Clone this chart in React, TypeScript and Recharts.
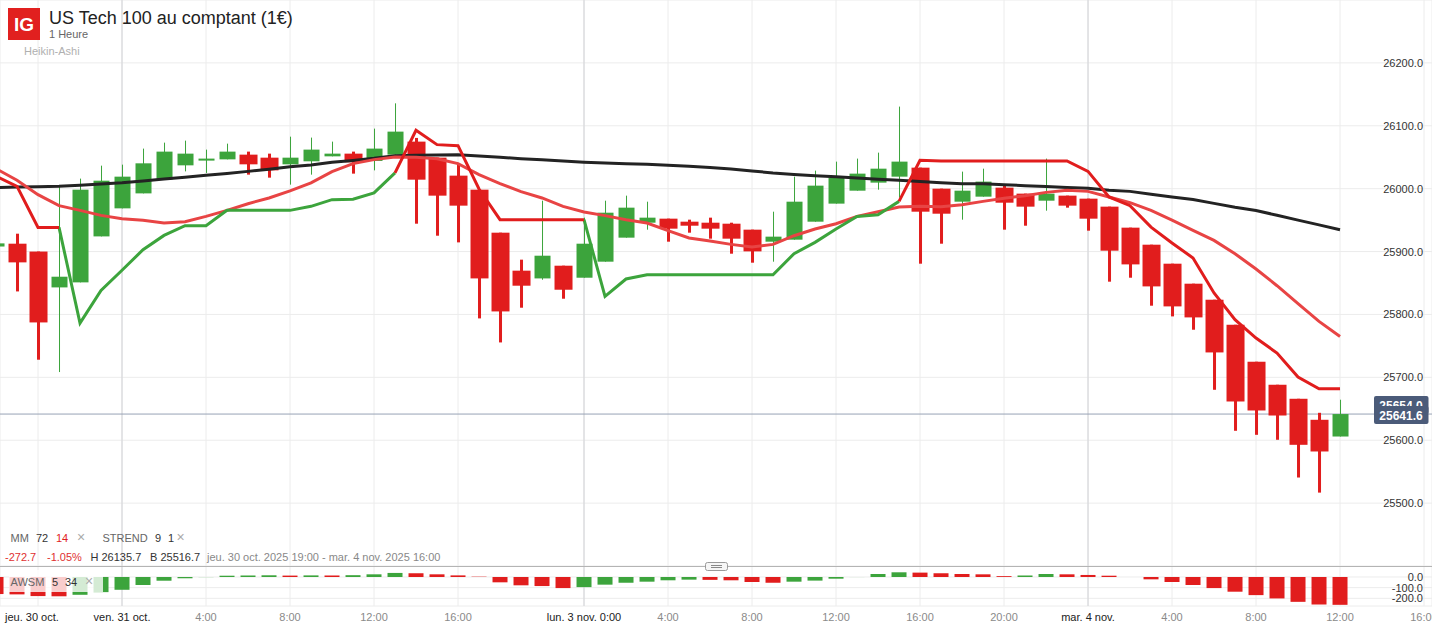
import React from "react";
import { ComposedChart, Bar, Line, XAxis, YAxis, CartesianGrid, Cell, ReferenceLine } from "recharts";

const W = 1432;
const MAIN_H = 566;
const SUB_H = 60;
const RED = "#e11d1d";
const GREEN = "#3ca43c";
const MM14_RED = "#e84444";
const FONT = '"Liberation Sans", Arial, Helvetica, sans-serif';

// hourly Heikin-Ashi candles, first one = jeu. 30 oct. 18:00 (index -1)
const firstHour = -1;

const haOpen = [
  25908.0, 25912.5, 25900.0, 25843.0, 25851.0,
  25924.1, 25968.7, 25992.5, 26014.3, 26037.1,
  26046.2, 26046.6, 26054.1, 26049.3, 26038.7,
  26043.5, 26051.4, 26055.7, 26044.1, 26054.1,
  26074.8, 26049.3, 26020.7, 25998.4, 25930.0,
  25869.6, 25857.3, 25877.5, 25858.4, 25883.9,
  25922.1, 25945.9, 25952.3, 25947.5, 25945.9,
  25944.3, 25934.8, 25915.7, 25918.9, 25947.5,
  25976.2, 25996.8, 26009.6, 26019.1, 26033.4,
  26000.0, 25979.3, 25987.3, 26001.6, 25992.1,
  25980.9, 25988.9, 25984.1, 25971.4, 25938.0,
  25910.9, 25880.7, 25848.9, 25823.4, 25783.6,
  25724.8, 25688.2, 25665.9, 25632.5, 25605.9,
];

const haHigh = [
  25916.0, 25928.4, 25900.0, 26005.3, 26016.0,
  26036.6, 26038.2, 26063.7, 26073.2, 26076.4,
  26062.1, 26071.6, 26058.9, 26055.7, 26082.7,
  26081.2, 26074.8, 26058.9, 26095.5, 26135.7,
  26080.7, 26049.3, 26039.8, 25998.4, 25930.0,
  25887.1, 25980.9, 25877.5, 25953.9, 25980.9,
  25988.9, 25979.3, 25952.3, 25950.7, 25953.9,
  25945.9, 25934.8, 25963.4, 26019.1, 26028.7,
  26043.0, 26047.8, 26057.3, 26130.5, 26033.4,
  26000.0, 26027.1, 26031.8, 26004.8, 25992.1,
  26047.8, 25988.9, 25984.1, 25971.4, 25938.0,
  25910.9, 25880.7, 25848.9, 25823.4, 25783.6,
  25724.8, 25688.2, 25665.9, 25643.6, 25664.4,
];

const haLow = [
  25905.0, 25836.6, 25728.0, 25708.4, 25851.0,
  25924.1, 25968.7, 25992.5, 26014.3, 26027.5,
  26025.0, 26046.6, 26022.3, 26017.5, 26006.4,
  26022.3, 26051.4, 26023.9, 26029.1, 26054.1,
  25944.3, 25925.2, 25914.6, 25793.7, 25755.5,
  25810.7, 25855.2, 25825.0, 25858.4, 25883.9,
  25922.1, 25934.8, 25915.7, 25930.0, 25920.5,
  25896.6, 25882.3, 25883.9, 25918.9, 25947.5,
  25976.2, 25996.8, 25998.4, 25985.7, 25880.7,
  25912.5, 25950.7, 25987.3, 25934.8, 25941.1,
  25965.0, 25969.8, 25933.2, 25852.1, 25858.4,
  25813.9, 25796.9, 25775.7, 25680.2, 25615.0,
  25608.6, 25600.7, 25540.7, 25516.7, 25605.9,
];

const haClose = [
  25913.0, 25882.8, 25787.3, 25860.0, 25998.4,
  26012.7, 26019.1, 26040.3, 26058.9, 26055.7,
  26047.8, 26058.9, 26038.7, 26029.1, 26049.3,
  26062.1, 26055.7, 26041.9, 26063.7, 26090.7,
  26014.3, 25988.9, 25973.0, 25857.3, 25804.8,
  25845.7, 25893.4, 25839.3, 25912.5, 25961.8,
  25969.8, 25953.9, 25936.4, 25941.1, 25936.4,
  25920.5, 25900.3, 25923.7, 25979.3, 26004.8,
  26017.5, 26023.9, 26031.8, 26043.0, 25963.4,
  25960.2, 25996.8, 26011.2, 25977.7, 25971.4,
  25992.1, 25973.0, 25952.3, 25901.4, 25879.6,
  25844.6, 25812.8, 25795.3, 25739.6, 25661.6,
  25647.3, 25639.3, 25592.7, 25582.1, 25641.6,
];

const mm72 = [
  26001.9, 26002.6, 26003.0, 26003.7, 26005.4,
  26007.3, 26009.4, 26012.3, 26015.3, 26018.2,
  26021.2, 26024.2, 26027.5, 26031.0, 26034.7,
  26037.7, 26041.9, 26044.9, 26048.2, 26052.4,
  26053.3, 26053.7, 26054.1, 26052.0, 26049.8,
  26047.7, 26045.8, 26043.9, 26042.2, 26040.9,
  26039.8, 26038.8, 26037.1, 26035.5, 26033.7,
  26031.4, 26028.2, 26025.0, 26022.6, 26020.7,
  26018.9, 26017.0, 26015.1, 26013.2, 26011.5,
  26009.6, 26008.0, 26007.7, 26006.2, 26004.8,
  26003.5, 26001.9, 26000.7, 25997.6, 25995.7,
  25991.3, 25986.8, 25982.7, 25976.6, 25970.4,
  25965.2, 25957.7, 25950.0, 25942.4, 25934.8,
];

const mm14 = [
  26031.8, 26013.5, 25990.5, 25973.0, 25965.5,
  25957.5, 25952.3, 25949.6, 25945.4, 25947.5,
  25955.9, 25965.5, 25976.1, 25985.2, 25996.4,
  26009.1, 26027.1, 26039.8, 26046.2, 26050.4,
  26049.8, 26047.7, 26039.8, 26022.3, 26008.0,
  25995.2, 25985.2, 25971.9, 25962.9, 25957.1,
  25950.7, 25945.4, 25933.2, 25921.6, 25916.8,
  25911.4, 25907.3, 25911.4, 25925.2, 25935.9,
  25944.3, 25955.9, 25963.4, 25970.9, 25971.9,
  25971.4, 25974.5, 25979.8, 25984.6, 25988.9,
  25994.1, 25997.3, 25995.7, 25986.8, 25977.7,
  25965.5, 25949.9, 25933.7, 25917.8, 25896.6,
  25872.3, 25845.7, 25817.1, 25788.9, 25765.0,
];

const strend = [
  26019.9, 26003.7, 25938.4, 25938.4, 25786.3,
  25838.2, 25870.3, 25902.9, 25925.7, 25941.1,
  25941.1, 25965.5, 25965.5, 25965.5, 25965.5,
  25971.9, 25982.5, 25983.3, 25993.2, 26025.0,
  26092.8, 26070.0, 26068.4, 25999.5, 25950.7,
  25950.7, 25950.7, 25950.7, 25950.7, 25828.7,
  25856.4, 25863.2, 25863.2, 25863.2, 25863.2,
  25863.2, 25863.2, 25863.2, 25896.6, 25914.6,
  25935.9, 25955.9, 25958.6, 25979.8, 26045.0,
  26044.1, 26044.1, 26044.1, 26044.1, 26044.1,
  26044.1, 26044.1, 26027.5, 25986.8, 25973.0,
  25938.8, 25913.6, 25889.8, 25834.1, 25791.6,
  25762.5, 25738.6, 25700.4, 25681.8, 25681.8,
];

// 1 = up trend (green), -1 = down trend (red)
const strendTrend = [
  -1, -1, -1, -1, 1,
  1, 1, 1, 1, 1,
  1, 1, 1, 1, 1,
  1, 1, 1, 1, 1,
  -1, -1, -1, -1, -1,
  -1, -1, -1, -1, 1,
  1, 1, 1, 1, 1,
  1, 1, 1, 1, 1,
  1, 1, 1, 1, -1,
  -1, -1, -1, -1, -1,
  -1, -1, -1, -1, -1,
  -1, -1, -1, -1, -1,
  -1, -1, -1, -1, -1,
];

const awsm = [
  -160, -163, -179, -181, -167,
  -142, -120, -75, -35, -12,
  -5, 12, 14, 16, 13,
  15, 14, 17, 25, 38,
  35, 25, 15, 3, -50,
  -78, -85, -104, -95, -72,
  -54, -44, -31, -25, -27,
  -31, -47, -54, -44, -34,
  -16, -2, 28, 44, 41,
  35, 28, 25, 8, 14,
  28, 25, 19, 12, 0,
  -22, -47, -75, -104, -138,
  -170, -201, -233, -258, -261,
];
const paleAwsm = [9, 40];

const priceTicks = [25500, 25600, 25700, 25800, 25900, 26000, 26100, 26200];
const awsmTicks = [-200, -100, 0];
const timeTicks = [1, 5, 9, 13, 17, 21, 27, 31, 35, 39, 43, 47, 51, 55, 59, 63, 67];
const timeLabels = [
  "jeu. 30 oct.", "ven. 31 oct.", "4:00", "8:00", "12:00", "16:00",
  "lun. 3 nov. 0:00", "4:00", "8:00", "12:00", "16:00", "20:00",
  "mar. 4 nov.", "4:00", "8:00", "12:00", "16:00",
];
const dayTicks = [5, 27, 51];
const lastPrice = 25641.6;
const askPrice = "25654.0";

const xDomain = [-0.81, 67.38];

const data = haOpen.map((open, k) => {
  const t = strendTrend[k];
  const n = strendTrend[k + 1];
  const prev = k > 0 ? awsm[k - 1] : Infinity;
  return {
    i: firstHour + k,
    open,
    high: haHigh[k],
    low: haLow[k],
    close: haClose[k],
    mm72: mm72[k],
    mm14: mm14[k],
    stUp: t === 1 || n === 1 ? strend[k] : null,
    stDn: t === -1 || n === -1 ? strend[k] : null,
    awsm: awsm[k],
    awsmUp: awsm[k] > prev,
  };
});

const Candle = (props: any) => {
  const { x, y, width, height, payload } = props;
  if (!payload || !isFinite(y) || !isFinite(height)) return null;
  const { open, close, high, low } = payload;
  const up = close >= open;
  const k = height / (high - low);
  const cx = x + width / 2;
  const yOf = (v: number) => y + (high - v) * k;
  const top = yOf(Math.max(open, close));
  const bot = yOf(Math.min(open, close));
  const bw = up ? 16 : 18;
  const ww = up ? 1 : 3;
  const color = up ? GREEN : RED;
  return (
    <g>
      <rect x={cx - ww / 2} y={y} width={ww} height={height} fill={color} />
      <rect x={cx - bw / 2} y={top} width={bw} height={Math.max(bot - top, 2)} fill={color} />
    </g>
  );
};

const PriceTick = (props: any) => {
  const { y, payload } = props;
  return (
    <text x={W - 9} y={y} dy={4} textAnchor="end" fontSize={11} fontFamily={FONT} fill="#333">
      {Number(payload.value).toFixed(1)}
    </text>
  );
};

const TimeTick = (props: any) => {
  const { x, payload } = props;
  const k = timeTicks.indexOf(payload.value);
  const label = timeLabels[k];
  const isDay = k === 0 || dayTicks.includes(payload.value);
  const pinned = k === 0;
  return (
    <text
      x={pinned ? 5 : x}
      y={55}
      textAnchor={pinned ? "start" : "middle"}
      fontSize={11}
      fontFamily={FONT}
      fill={isDay ? "#222" : "#8a8a8a"}
    >
      {label}
    </text>
  );
};

export default function App() {
  return (
    <div
      style={{
        position: "absolute",
        left: 0,
        top: 0,
        width: W,
        height: 626,
        background: "#fff",
        overflow: "hidden",
        fontFamily: FONT,
      }}
    >
      <div style={{ position: "absolute", left: 0, top: 0 }}>
        <ComposedChart width={W} height={MAIN_H} data={data} margin={{ top: 0, right: 0, bottom: 0, left: 0 }}>
          <CartesianGrid stroke="#ececec" />
          <XAxis dataKey="i" type="number" domain={xDomain} allowDataOverflow hide ticks={timeTicks} interval={0} />
          <YAxis
            orientation="right"
            mirror
            domain={[25400, 26300]}
            allowDataOverflow
            ticks={priceTicks}
            interval={0}
            axisLine={false}
            tickLine={false}
            tick={(p: any) => <PriceTick {...p} />}
          />
          {dayTicks.map((t) => (
            <ReferenceLine key={t} x={t} stroke="#d2d3d7" zIndex={-50} />
          ))}
          <ReferenceLine y={lastPrice} stroke="#97a3b5" zIndex={-50} />
          <Bar
            dataKey={(d: any) => [d.low, d.high]}
            barSize={18}
            isAnimationActive={false}
            shape={(p: any) => <Candle {...p} />}
          />
          <Line dataKey="mm72" type="linear" stroke="#232323" strokeWidth={3} dot={false} activeDot={false} isAnimationActive={false} />
          <Line dataKey="mm14" type="linear" stroke={MM14_RED} strokeWidth={3} dot={false} activeDot={false} isAnimationActive={false} />
          <Line dataKey="stUp" type="linear" stroke={GREEN} strokeWidth={3} dot={false} activeDot={false} isAnimationActive={false} />
          <Line dataKey="stDn" type="linear" stroke={RED} strokeWidth={3} dot={false} activeDot={false} isAnimationActive={false} />
        </ComposedChart>
      </div>

      <div style={{ position: "absolute", left: 0, top: MAIN_H }}>
        <ComposedChart width={W} height={SUB_H} data={data} margin={{ top: 0, right: 0, bottom: 0, left: 0 }}>
          <CartesianGrid stroke="#ececec" />
          <XAxis
            dataKey="i"
            type="number"
            domain={xDomain}
            allowDataOverflow
            ticks={timeTicks}
            interval={0}
            height={20}
            axisLine={false}
            tickLine={false}
            tick={(p: any) => <TimeTick {...p} />}
          />
          <YAxis
            orientation="right"
            mirror
            domain={[-272, 103]}
            allowDataOverflow
            ticks={awsmTicks}
            interval={0}
            axisLine={false}
            tickLine={false}
            tick={(p: any) => <PriceTick {...p} />}
          />
          {dayTicks.map((t) => (
            <ReferenceLine key={t} x={t} stroke="#d2d3d7" zIndex={-50} />
          ))}
          <Bar dataKey="awsm" barSize={15} isAnimationActive={false}>
            {data.map((d, k) => {
              const pale = paleAwsm.includes(d.i);
              const fill = pale ? "#cfe8cf" : d.awsmUp ? GREEN : RED;
              return <Cell key={k} fill={fill} />;
            })}
          </Bar>
        </ComposedChart>
      </div>

      <svg
        width={W}
        height={626}
        style={{ position: "absolute", left: 0, top: 0, pointerEvents: "none" }}
        fontFamily={FONT}
      >
        <defs>
          <clipPath id="askClip">
            <rect x={1374} y={396} width={55} height={10} />
          </clipPath>
        </defs>
        {/* header */}
        <rect x={8} y={8} width={32} height={32} fill="#e1201f" />
        <text x={24} y={31} textAnchor="middle" fontSize={19} fontWeight="bold" fill="#fff">
          IG
        </text>
        <text x={49} y={23.5} fontSize={18} fill="#222">
          US Tech 100 au comptant (1€)
        </text>
        <text x={49} y={38} fontSize={11} fill="#666">
          1 Heure
        </text>
        <text x={24} y={55} fontSize={11} fill="#b0b0b0">
          Heikin-Ashi
        </text>

        {/* price labels */}
        <rect x={1374} y={396} width={54.5} height={18} rx={2} fill="#4b5b79" />
        <g clipPath="url(#askClip)">
          <text x={1401} y={410} textAnchor="middle" fontSize={12} fontWeight="bold" fill="#fff">
            {askPrice}
          </text>
        </g>
        <rect x={1374} y={406} width={54.5} height={18} rx={2} fill="#4b5b79" />
        <text x={1401} y={419.5} textAnchor="middle" fontSize={12} fontWeight="bold" fill="#fff">
          {lastPrice.toFixed(1)}
        </text>

        {/* indicator legend */}
        <text y={541.5} fontSize={11}>
          <tspan x={10.5} fill="#666">MM</tspan>
          <tspan x={36} fill="#333">72</tspan>
          <tspan x={56} fill={RED}>14</tspan>
          <tspan x={77} fill="#aaa" fontSize={14}>×</tspan>
          <tspan x={102.5} fill="#666">STREND</tspan>
          <tspan x={155} fill="#333">9</tspan>
          <tspan x={168} fill="#333">1</tspan>
          <tspan x={176.5} fill="#aaa" fontSize={14}>×</tspan>
        </text>
        <text y={561} fontSize={11}>
          <tspan x={5} fill="#e03030">-272.7</tspan>
          <tspan x={47} fill="#e03030">-1.05%</tspan>
          <tspan x={90.5} fill="#333">H 26135.7</tspan>
          <tspan x={150} fill="#333">B 25516.7</tspan>
          <tspan x={207} fill="#888">jeu. 30 oct. 2025 19:00 - mar. 4 nov. 2025 16:00</tspan>
        </text>

        {/* panel separator */}
        <line x1={0} x2={W} y1={566.5} y2={566.5} stroke="#b4b4b4" />
        <rect x={705.5} y={562.5} width={22} height={8} rx={2} fill="#f6f6f6" stroke="#9a9a9a" />
        <line x1={711} x2={722} y1={565.5} y2={565.5} stroke="#888" />
        <line x1={711} x2={722} y1={567.5} y2={567.5} stroke="#888" />

        {/* AWSM legend */}
        <rect x={9} y={570} width={94} height={22} fill="#fff" fillOpacity={0.78} />
        <text y={586} fontSize={11}>
          <tspan x={10.5} fill="#666">AWSM</tspan>
          <tspan x={52} fill="#333">5</tspan>
          <tspan x={65} fill="#333">34</tspan>
          <tspan x={85} fill="#aaa" fontSize={14}>×</tspan>
        </text>
      </svg>
    </div>
  );
}
